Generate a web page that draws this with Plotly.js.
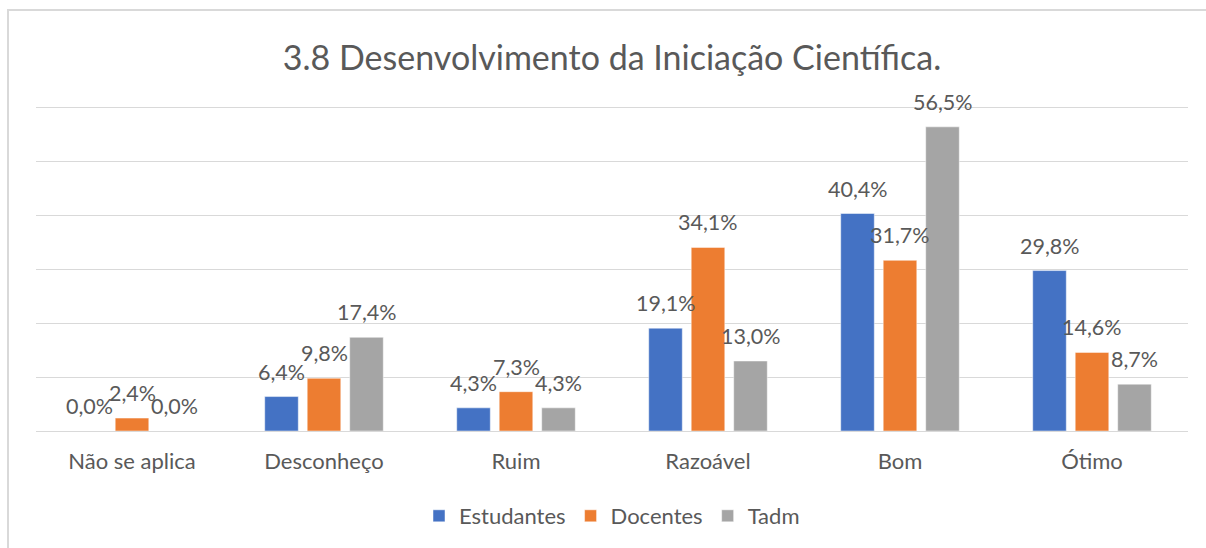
<!DOCTYPE html>
<html>
<head>
<meta charset="utf-8">
<script src="https://cdn.plot.ly/plotly-3.0.1.min.js"></script>
<style>
  html, body { margin: 0; padding: 0; background: #fff; overflow: hidden; }
  #wrap { position: relative; width: 1206px; height: 548px; overflow: hidden; }
  #chart { width: 1206px; height: 548px; }
  #frame { position: absolute; left: 7px; top: 9px; width: 1250px; height: 700px;
           border-top: 2px solid #d9d9d9; border-left: 2px solid #d9d9d9;
           pointer-events: none; box-sizing: border-box; }
</style>
</head>
<body>
<div id="wrap">
  <div id="chart"></div>
  <div id="frame"></div>
</div>
<script>
const categories = ["Não se aplica", "Desconheço", "Ruim", "Razoável", "Bom", "Ótimo"];
const seriesNames = ["Estudantes", "Docentes", "Tadm"];
const estudantes = [0.0, 6.4, 4.3, 19.1, 40.4, 29.8];
const docentes   = [2.4, 9.8, 7.3, 34.1, 31.7, 14.6];
const tadm       = [0.0, 17.4, 4.3, 13.0, 56.5, 8.7];
const colors = ["#4472C4", "#ED7D31", "#A5A5A5"];

const allSeries = [estudantes, docentes, tadm];
const FONT = "Lato, 'Open Sans', sans-serif";
const TXT = "#595959";

const bargap = 0.336;
const slot = (1 - bargap) / 3;

const traces = allSeries.map((vals, s) => ({
  type: "bar",
  name: seriesNames[s],
  x: categories,
  y: vals,
  marker: { color: colors[s], line: { color: "rgba(255,255,255,0.6)", width: 0.8 } },
  hoverinfo: "skip"
}));

const annotations = [];
allSeries.forEach((vals, s) => {
  vals.forEach((v, i) => {
    annotations.push({
      xref: "x", yref: "y",
      x: i + (s - 1) * slot,
      y: v,
      yshift: 25,
      yanchor: "middle",
      xanchor: "center",
      showarrow: false,
      text: v.toFixed(1).replace(".", ",") + "%",
      font: { family: FONT, size: 21.5, color: TXT }
    });
  });
});

const layout = {
  width: 1206, height: 548,
  margin: { l: 36, r: 18, t: 106, b: 116 },
  paper_bgcolor: "#ffffff",
  plot_bgcolor: "#ffffff",
  font: { family: FONT, size: 22, color: TXT },
  title: {
    text: "3.8 Desenvolvimento da Iniciação Científica.",
    font: { family: FONT, size: 34, color: TXT },
    xref: "paper", x: 0.5, xanchor: "center",
    yref: "container", y: 1 - 58 / 548, yanchor: "middle"
  },
  barmode: "group",
  bargap: bargap,
  bargroupgap: 0.21,
  xaxis: {
    type: "category",
    showgrid: false,
    showline: false,
    zeroline: false,
    ticks: "outside", ticklen: 11, tickcolor: "rgba(0,0,0,0)",
    tickfont: { family: FONT, size: 22, color: TXT },
    fixedrange: true
  },
  yaxis: {
    range: [0, 60.37],
    tick0: 0,
    dtick: 10,
    showgrid: true,
    gridcolor: "#d9d9d9",
    gridwidth: 1,
    zeroline: true,
    zerolinecolor: "#d9d9d9",
    zerolinewidth: 1,
    showticklabels: false,
    showline: false,
    fixedrange: true
  },
  showlegend: true,
  legend: {
    orientation: "h",
    x: 0.5, xanchor: "center",
    y: (432 - 516) / 326, yanchor: "middle",
    font: { family: FONT, size: 22, color: TXT },
    itemclick: false, itemdoubleclick: false
  },
  annotations: annotations
};

Plotly.newPlot("chart", traces, layout, { displayModeBar: false, staticPlot: true });
</script>
</body>
</html>
